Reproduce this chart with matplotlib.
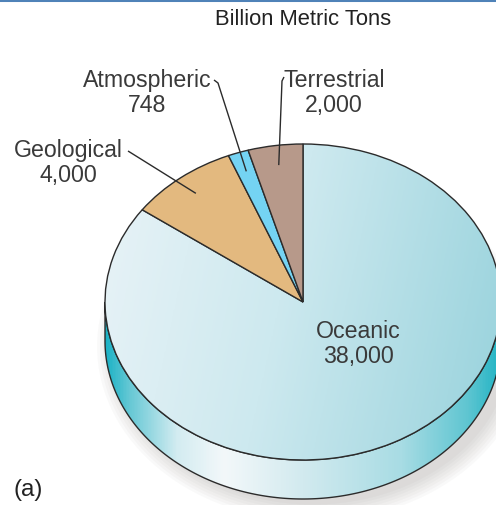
import numpy as np
import matplotlib
matplotlib.use("Agg")
import matplotlib.pyplot as plt
from matplotlib.colors import LinearSegmentedColormap
from matplotlib.patches import Polygon, Ellipse
from matplotlib.lines import Line2D

# carbon reservoirs, billion metric tons
reservoirs = ["Oceanic", "Geological", "Atmospheric", "Terrestrial"]
amounts = [38000, 4000, 748, 2000]
amount_labels = ["38,000", "4,000", "748", "2,000"]
slice_colors = ["none", "#e3b97f", "#74d3f3", "#b7998a"]

# layout in pixels of the 496x506 picture
W, H = 496, 506
CX, CY = 303, 303        # pie centre
RX, RY = 198, 158        # ellipse radii (tilted disc)
DEPTH = 39 / RY          # disc thickness in data units

plt.rcParams["font.family"] = ["Liberation Sans", "DejaVu Sans"]

fig = plt.figure(figsize=(W / 100, H / 100), dpi=100)
ax = fig.add_axes([0, 0, 1, 1])


def px(x, y):
    """pixel position (from top-left) -> data coords"""
    return (x - CX) / RX, (CY - y) / RY


EDGE = "#2b2b2b"

# soft drop shadow under the disc
for i in range(7):
    ax.add_patch(Ellipse((0.05, -DEPTH - 0.035), 2.0 + 0.03 * i, 2.0 + 0.035 * i,
                         facecolor="#7a7570", edgecolor="none", alpha=0.04, zorder=0.1))

# side of the disc (front half)
t = np.linspace(np.pi, 2 * np.pi, 200)
side_xy = np.concatenate([np.c_[np.cos(t), np.sin(t)],
                          np.c_[np.cos(t[::-1]), np.sin(t[::-1]) - DEPTH]])
side = Polygon(side_xy, closed=True, facecolor="none", edgecolor=EDGE, lw=1.0, zorder=0.4)
ax.add_patch(side)
side_cmap = LinearSegmentedColormap.from_list("side", [
    (0.0, "#1cb2c5"), (0.06, "#66c8d5"), (0.18, "#d3ecf1"), (0.30, "#f3f8fa"),
    (0.50, "#d2eaef"), (0.75, "#a8dce4"), (0.92, "#5ec5d1"), (1.0, "#22b4c4")])
grad = np.tile(np.linspace(0, 1, 400), (10, 1))
im = ax.imshow(grad, extent=(-1, 1, -1 - DEPTH, 0), cmap=side_cmap, aspect="auto",
               origin="lower", zorder=0.3, interpolation="bilinear")
im.set_clip_path(side)

# top of the disc
wedges, _ = ax.pie(amounts, colors=slice_colors, startangle=90, counterclock=False,
                   radius=1, wedgeprops=dict(edgecolor=EDGE, linewidth=1.0))
for w in wedges:
    w.set_zorder(1)

top_cmap = LinearSegmentedColormap.from_list("top", [
    (0.0, "#e9f3f7"), (0.45, "#cde9ef"), (1.0, "#97d2dc")])
gx, gy = np.meshgrid(np.linspace(0, 1, 300), np.linspace(0, 1, 300))
top_grad = 0.85 * gx + 0.15 * (1 - gy)
im2 = ax.imshow(top_grad, extent=(-1, 1, -1, 1), cmap=top_cmap, aspect="auto",
                origin="lower", zorder=0.8, interpolation="bilinear")
im2.set_clip_path(wedges[0])

# labels
LABEL_COLOR = "#3a3a3a"
label_pos = {
    "Oceanic": (358, 344),
    "Geological": (68, 163),
    "Atmospheric": (147, 93),
    "Terrestrial": (334, 93),
}
for name, amt in zip(reservoirs, amount_labels):
    x, y = px(*label_pos[name])
    ax.text(x, y, f"{name}\n{amt}", ha="center", va="center", fontsize=16.7,
            color=LABEL_COLOR, linespacing=1.15, zorder=5)

# leader lines from the small slices' labels
leader_start = {
    "Geological": [(128, 152)],
    "Atmospheric": [(214, 81), (218, 84)],
    "Terrestrial": [(284, 78), (282, 82)],
}
for w, name in zip(wedges, reservoirs):
    if name not in leader_start:
        continue
    mid = np.deg2rad((w.theta1 + w.theta2) / 2)
    pts = [px(*p) for p in leader_start[name]] + [(0.875 * np.cos(mid), 0.875 * np.sin(mid))]
    xs, ys = zip(*pts)
    ax.plot(xs, ys, color="#2b2b2b", lw=1.0, zorder=4, solid_capstyle="butt")

ax.text(*px(303, 19), "Billion Metric Tons", ha="center", va="center",
        fontsize=15.8, color="#222222", zorder=5)
ax.text(*px(28, 490), "(a)", ha="center", va="center", fontsize=17.5,
        color="#222222", zorder=5)

ax.set_aspect("auto")
ax.set_xlim(-CX / RX, (W - CX) / RX)
ax.set_ylim(-(H - CY) / RY, CY / RY)
ax.axis("off")

# blue rule along the top edge
fig.add_artist(Line2D([0, 1], [1 - 1.2 / H, 1 - 1.2 / H], transform=fig.transFigure,
                      color="#4f82b8", lw=2.2))

fig.savefig("out.png", dpi=100)
